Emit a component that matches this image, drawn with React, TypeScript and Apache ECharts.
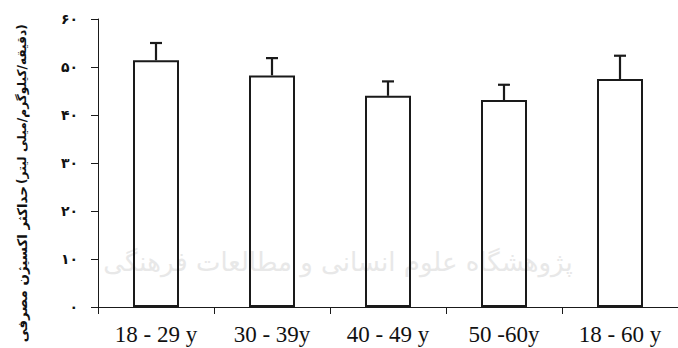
import React, { useEffect, useRef } from "react";
import * as echarts from "echarts";

const categories = ["18 - 29 y", "30 - 39y", "40 - 49 y", "50 -60y", "18 - 60 y"];
const means = [51.4, 48.25, 44.0, 43.1, 47.5];
const errors = [3.6, 3.6, 3.0, 3.2, 4.85];
const yTickLabels = ["۰", "۱۰", "۲۰", "۳۰", "۴۰", "۵۰", "۶۰"];
const yTitleTop = "(دقیقه/کیلوگرم/میلی لیتر)";
const yTitleBottom = "حداکثر اکسیژن مصرفی";
const watermark = "پژوهشگاه علوم انسانی و مطالعات فرهنگی";

export default function App() {
  const ref = useRef<HTMLDivElement>(null);
  useEffect(() => {
    if (!ref.current) return;
    const chart = echarts.init(ref.current, null, { renderer: "svg" });
    const ink = "#1a1a1a";
    chart.setOption({
      animation: false,
      backgroundColor: "#ffffff",
      grid: { left: 98, top: 19, height: 288, width: 590, containLabel: false },
      graphic: [
        {
          type: "text",
          z: -10,
          silent: true,
          x: 338,
          y: 262,
          style: {
            text: watermark,
            font: "26px 'DejaVu Sans'",
            fill: "#e8e8e8",
            align: "center",
            verticalAlign: "middle",
          },
        },
        {
          type: "text",
          x: 22,
          y: 184,
          rotation: Math.PI / 2,
          style: {
            text: yTitleTop,
            font: "bold 12.2px 'DejaVu Sans'",
            fill: "#111",
            align: "left",
            verticalAlign: "middle",
          },
        },
        {
          type: "text",
          x: 22,
          y: 186,
          rotation: Math.PI / 2,
          style: {
            text: yTitleBottom,
            font: "bold 13.4px 'DejaVu Sans'",
            fill: "#111",
            align: "right",
            verticalAlign: "middle",
          },
        },
      ],
      xAxis: {
        type: "category",
        data: categories,
        axisLine: { lineStyle: { color: ink, width: 1 } },
        axisTick: { show: true, length: 7, lineStyle: { color: ink } },
        axisLabel: {
          color: "#111",
          fontFamily: "'Liberation Serif'",
          fontSize: 23,
          margin: 16,
        },
      },
      yAxis: {
        type: "value",
        min: 0,
        max: 60,
        interval: 10,
        splitLine: { show: false },
        axisLine: { show: true, lineStyle: { color: ink, width: 1 } },
        axisTick: { show: true, length: 7, lineStyle: { color: ink } },
        axisLabel: {
          color: "#111",
          fontFamily: "'DejaVu Sans'",
          fontWeight: "bold",
          fontSize: 14,
          margin: 20,
          formatter: (v: number) => yTickLabels[Math.round(v / 10)],
        },
      },
      series: [
        {
          type: "bar",
          data: means,
          barWidth: 46,
          itemStyle: {
            color: "rgba(255,255,255,0)",
            borderColor: ink,
            borderWidth: 2,
          },
          z: 2,
        },
        {
          type: "custom",
          z: 3,
          data: means.map((m, i) => [i, m, m + errors[i]]),
          renderItem: (params: any, api: any) => {
            const base = api.coord([api.value(0), api.value(1)]);
            const top = api.coord([api.value(0), api.value(2)]);
            const style = { stroke: ink, lineWidth: 2.2 };
            return {
              type: "group",
              children: [
                { type: "line", shape: { x1: base[0], y1: base[1], x2: top[0], y2: top[1] }, style },
                { type: "line", shape: { x1: top[0] - 6, y1: top[1], x2: top[0] + 6, y2: top[1] }, style },
              ],
            };
          },
        },
      ],
    });
    return () => chart.dispose();
  }, []);
  return (
    <div
      ref={ref}
      style={{ position: "fixed", left: 0, top: 0, width: 678, height: 348 }}
    />
  );
}
